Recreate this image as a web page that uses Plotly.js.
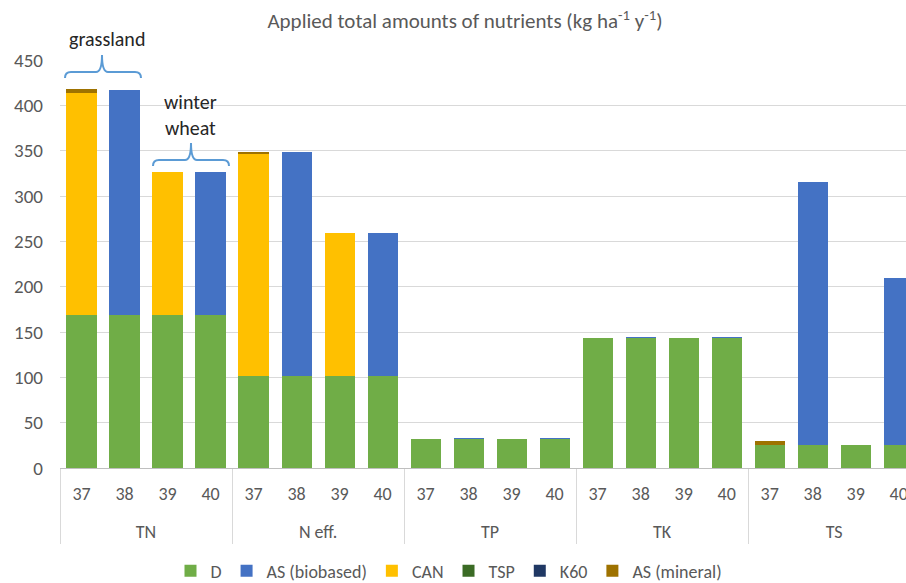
<!DOCTYPE html>
<html>
<head>
<meta charset="utf-8">
<script src="https://cdn.plot.ly/plotly-3.0.1.min.js"></script>
<style>html,body{margin:0;padding:0;background:#fff;}#chart{width:906px;height:583px;}</style>
</head>
<body>
<div id="chart"></div>
<script>
// ---- data ----
const groups = ['TN', 'N eff.', 'TP', 'TK', 'TS'];
const subs = ['37', '38', '39', '40'];
const D          = [169, 169, 169, 169, 102, 102, 102, 102, 32, 32, 32, 32, 143, 143, 143, 143, 25, 25, 25, 25];
const ASbiobased = [0, 248, 0, 158, 0, 247, 0, 157, 0, 1.3, 0, 1.3, 0, 1, 0, 1, 0, 290, 0, 185];
const CAN        = [245, 0, 158, 0, 244, 0, 157, 0, 0, 0, 0, 0, 0, 0, 0, 0, 0, 0, 0, 0];
const TSP        = [0, 0, 0, 0, 0, 0, 0, 0, 0, 0, 0, 0, 0, 0, 0, 0, 0, 0, 0, 0];
const K60        = [0, 0, 0, 0, 0, 0, 0, 0, 0, 0, 0, 0, 0, 0, 0, 0, 0, 0, 0, 0];
const ASmineral  = [3.5, 0, 0, 0, 3, 0, 0, 0, 0, 0, 0, 0, 0, 0, 0, 0, 4.4, 0, 0, 0];
const seriesNames = ['D', 'AS (biobased)', 'CAN', 'TSP', 'K60', 'AS (mineral)'];
const seriesColors = ['#70AD47', '#4472C4', '#FFC000', '#3B6B25', '#203864', '#9E7200'];
const seriesValues = [D, ASbiobased, CAN, TSP, K60, ASmineral];

// ---- build ----
// sub labels get an empty second line so the group row sits lower, as in the reference
const xGroup = [], xSub = [];
groups.forEach(g => subs.forEach(s => { xGroup.push(g); xSub.push(s + '<br> '); }));

const FONT = 'Carlito, Calibri, Lato, sans-serif';
const traces = seriesNames.map((n, i) => ({
  type: 'bar',
  name: n,
  x: [xGroup, xSub],
  y: seriesValues[i],
  marker: { color: seriesColors[i], line: { width: 0 } },
  hoverinfo: 'none'
}));

// plot area in pixels
const L = 60, R = 906, T = 60, B = 468;
const px = x => (x - L) / (R - L);
const py = y => (B - y) / (B - T);
function brace(x0, x1, yTip, yLine, xc, yPeak) {
  const r = 6;
  const P = (x, y) => px(x).toFixed(5) + ',' + py(y).toFixed(5);
  return 'M' + P(x0, yTip) + ' Q' + P(x0, yLine) + ' ' + P(x0 + r, yLine) +
    ' L' + P(xc - r, yLine) + ' Q' + P(xc, yLine) + ' ' + P(xc, yPeak) +
    ' Q' + P(xc, yLine) + ' ' + P(xc + r, yLine) +
    ' L' + P(x1 - r, yLine) + ' Q' + P(x1, yLine) + ' ' + P(x1, yTip);
}

const layout = {
  width: 906, height: 583,
  margin: { l: L, r: 0, t: T, b: 583 - B, autoexpand: false },
  paper_bgcolor: '#ffffff', plot_bgcolor: '#ffffff',
  barmode: 'stack', bargap: 0.3,
  font: { family: FONT, color: '#595959', size: 18 },
  title: {
    text: 'Applied total amounts of nutrients (kg ha<sup>-1</sup> y<sup>-1</sup>)',
    x: px(465), xref: 'paper', xanchor: 'center', y: 1 - 21 / 583, yanchor: 'middle',
    font: { family: FONT, size: 21, color: '#595959' }
  },
  xaxis: {
    type: 'multicategory',
    range: [-0.5, 19.17],
    showline: true, linecolor: '#BFBFBF', linewidth: 1,
    showgrid: false, ticks: '',
    ticklabelstandoff: 9,
    showdividers: true, dividercolor: '#D9D9D9', dividerwidth: 1,
    tickfont: { family: FONT, size: 18, color: '#595959' },
    fixedrange: true
  },
  yaxis: {
    range: [0, 450], dtick: 50,
    showgrid: true, gridcolor: '#D9D9D9', gridwidth: 1,
    zeroline: false, showline: false, ticks: '',
    ticklabelstandoff: 16,
    tickfont: { family: FONT, size: 19, color: '#595959' },
    fixedrange: true
  },
  legend: {
    orientation: 'h', x: px(449), xanchor: 'center', y: py(571), yanchor: 'middle',
    font: { family: FONT, size: 18, color: '#595959' },
    traceorder: 'normal', itemwidth: 30
  },
  annotations: [
    { xref: 'paper', yref: 'paper', x: px(107), y: py(39), xanchor: 'center', yanchor: 'middle',
      text: 'grassland', showarrow: false,
      font: { family: FONT, size: 20, color: '#262626' } },
    { xref: 'paper', yref: 'paper', x: px(190), y: py(115), xanchor: 'center', yanchor: 'middle',
      text: 'winter<br>wheat', showarrow: false,
      font: { family: FONT, size: 20, color: '#262626' } }
  ],
  shapes: [
    { type: 'path', xref: 'paper', yref: 'paper', path: brace(65, 141, 78, 72, 102, 55),
      line: { color: '#5B9BD5', width: 2 } },
    { type: 'path', xref: 'paper', yref: 'paper', path: brace(153, 229, 166, 160, 191, 143),
      line: { color: '#5B9BD5', width: 2 } }
  ],
  showlegend: true
};

Plotly.newPlot('chart', traces, layout, { displayModeBar: false, staticPlot: true });
</script>
</body>
</html>
